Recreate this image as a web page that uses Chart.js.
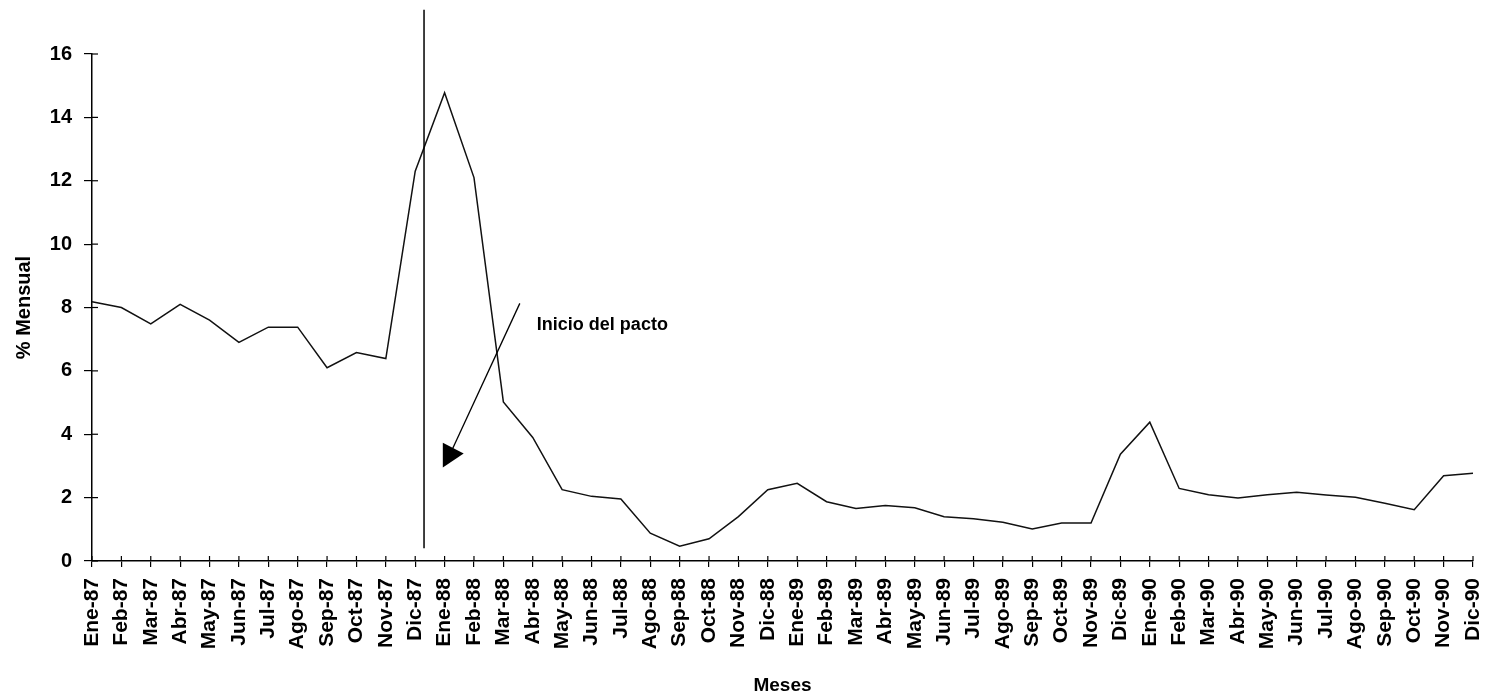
<!DOCTYPE html>
<html>
<head>
<meta charset="utf-8">
<script src="https://cdn.jsdelivr.net/npm/chart.js@4/dist/chart.umd.min.js"></script>
<style>
html,body{margin:0;padding:0;background:#fff;}
#wrap{width:1487px;height:697px;position:relative;}
</style>
</head>
<body>
<div id="wrap"><canvas id="c"></canvas></div>
<script>
const months = ["Ene-87","Feb-87","Mar-87","Abr-87","May-87","Jun-87","Jul-87","Ago-87","Sep-87","Oct-87","Nov-87","Dic-87",
"Ene-88","Feb-88","Mar-88","Abr-88","May-88","Jun-88","Jul-88","Ago-88","Sep-88","Oct-88","Nov-88","Dic-88",
"Ene-89","Feb-89","Mar-89","Abr-89","May-89","Jun-89","Jul-89","Ago-89","Sep-89","Oct-89","Nov-89","Dic-89",
"Ene-90","Feb-90","Mar-90","Abr-90","May-90","Jun-90","Jul-90","Ago-90","Sep-90","Oct-90","Nov-90","Dic-90"];
const inflation = [8.18,8.0,7.48,8.1,7.6,6.9,7.38,7.38,6.1,6.58,6.39,12.3,
14.78,12.1,5.02,3.9,2.25,2.04,1.96,0.88,0.47,0.7,1.4,2.25,
2.45,1.87,1.66,1.75,1.68,1.4,1.33,1.22,1.01,1.2,1.2,3.37,
4.38,2.29,2.09,1.99,2.09,2.17,2.08,2.01,1.82,1.62,2.69,2.77];
const yTicks = [0,2,4,6,8,10,12,14,16];
const pactoPos = 11.3;           // category position of the vertical line
const annotText = "Inicio del pacto";

const annotPlugin = {
  id:'annot',
  afterDraw(chart){
    const ctx = chart.ctx, xs = chart.scales.x, ys = chart.scales.y;
    const py = v => ys.getPixelForValue(v);
    const step = xs.getPixelForValue(1)-xs.getPixelForValue(0);
    const ax = v => xs.left + step*v;
    ctx.save();
    ctx.strokeStyle = '#000'; ctx.fillStyle = '#000';
    // inner tick halves
    ctx.lineWidth = 1.2;
    yTicks.forEach(t=>{ ctx.beginPath(); ctx.moveTo(xs.left, py(t)); ctx.lineTo(xs.left+6, py(t)); ctx.stroke(); });
    months.forEach((m,i)=>{ ctx.beginPath(); ctx.moveTo(ax(i), ys.bottom); ctx.lineTo(ax(i), ys.bottom-5); ctx.stroke(); });
    // vertical line
    ctx.lineWidth = 1.5;
    const vx = ax(pactoPos);
    ctx.beginPath(); ctx.moveTo(vx, py(17.4)); ctx.lineTo(vx, py(0.4)); ctx.stroke();
    // arrow
    ctx.lineWidth = 1.3;
    ctx.beginPath(); ctx.moveTo(ax(14.56), py(8.13)); ctx.lineTo(ax(12.2), py(3.4)); ctx.stroke();
    ctx.beginPath();
    ctx.moveTo(ax(11.94), py(3.73)); ctx.lineTo(ax(12.65), py(3.39)); ctx.lineTo(ax(11.94), py(2.95));
    ctx.closePath(); ctx.fill();
    // text
    ctx.font = 'bold 18px "Liberation Sans", Arial, sans-serif';
    ctx.textBaseline = 'middle'; ctx.textAlign = 'left';
    ctx.fillText(annotText, ax(15.14), py(7.44));
    ctx.restore();
  }
};

new Chart(document.getElementById('c'), {
  type:'line',
  data:{ labels: months, datasets:[{ data: inflation, borderColor:'#111', borderWidth:1.5, pointRadius:0, tension:0, fill:false }] },
  options:{
    responsive:true, maintainAspectRatio:false, animation:false,
    layout:{ padding:{ top:54, right:14, left:0, bottom:0 } },
    plugins:{ legend:{display:false}, tooltip:{enabled:false} },
    scales:{
      x:{
        type:'category', offset:false,
        grid:{ display:true, drawOnChartArea:false, drawTicks:true, tickLength:6, color:'#000', lineWidth:1.2 },
        border:{ display:true, color:'#000', width:1.5 },
        ticks:{ autoSkip:false, maxRotation:90, minRotation:90, padding:11, color:'#000',
          font:{ family:'"Liberation Sans", Arial, sans-serif', size:21, weight:'bold' } },
        title:{ display:true, text:'Meses', color:'#000', padding:{top:0,bottom:0},
          font:{ family:'"Liberation Sans", Arial, sans-serif', size:19, weight:'bold' } },
        afterFit(s){ s.height = 136; s.paddingLeft = 0; s.paddingRight = 0; }
      },
      y:{
        min:0, max:16,
        afterBuildTicks(s){ s.ticks = yTicks.map(v=>({value:v})); },
        grid:{ display:true, drawOnChartArea:false, drawTicks:true, tickLength:8, color:'#000', lineWidth:1.2 },
        border:{ display:true, color:'#000', width:1.5 },
        ticks:{ padding:12, color:'#000',
          font:{ family:'"Liberation Sans", Arial, sans-serif', size:20, weight:'bold' } },
        title:{ display:true, text:'% Mensual', color:'#000', padding:{top:12,bottom:0},
          font:{ family:'"Liberation Sans", Arial, sans-serif', size:20, weight:'bold' } },
        afterFit(s){ s.width = 92; s.paddingTop = 0; s.paddingBottom = 0; }
      }
    }
  },
  plugins:[annotPlugin]
});
</script>
</body>
</html>
